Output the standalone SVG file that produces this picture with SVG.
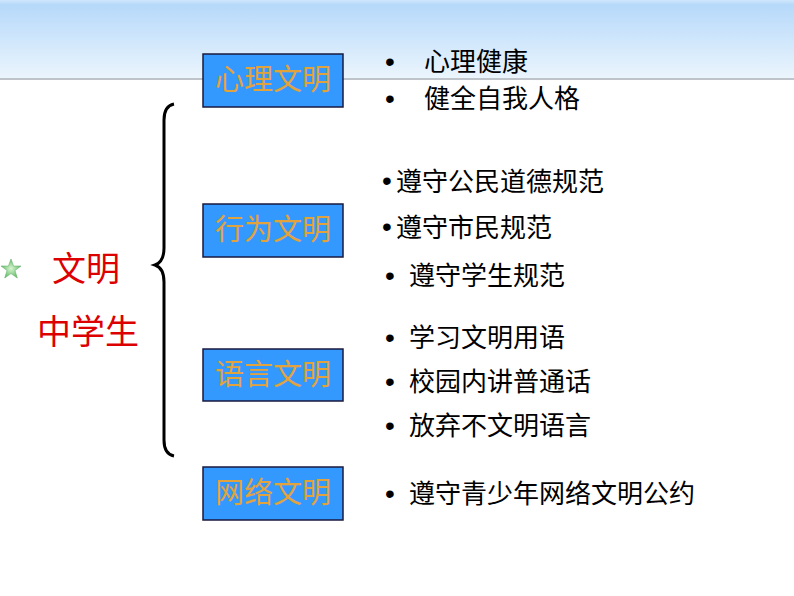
<svg xmlns="http://www.w3.org/2000/svg" width="794" height="596" viewBox="0 0 794 596">
<defs>
<linearGradient id="bg" x1="0" y1="0" x2="0" y2="1">
<stop offset="0" stop-color="#d0e7fc"/>
<stop offset="0.06" stop-color="#b6d9fa"/>
<stop offset="1" stop-color="#ebf5fd"/>
</linearGradient>
<radialGradient id="sg" cx="0.5" cy="0.5" r="0.6">
<stop offset="0" stop-color="#d8f5d0"/>
<stop offset="1" stop-color="#4fb058"/>
</radialGradient>
</defs>
<style>
.box{fill:#3399ff;stroke:#1a1a40;stroke-width:1.5}
.bt{font-family:"Noto Sans CJK SC","Liberation Sans",sans-serif;font-size:29px;fill:#e2a23c;text-anchor:middle}
.it{font-family:"Noto Sans CJK SC","Liberation Sans",sans-serif;font-size:26px;fill:#000}
.bu{font-family:"Liberation Sans",sans-serif;font-size:28px;fill:#000}
.rt{font-family:"Noto Sans CJK SC","Liberation Sans",sans-serif;font-size:34px;fill:#dd0000}
</style>
<rect width="794" height="596" fill="#fff"/>
<rect x="0" y="0" width="794" height="78" fill="url(#bg)"/>
<line x1="0" y1="79" x2="794" y2="79" stroke="#a8b0b8" stroke-width="1.5"/>
<polygon points="11,259 13.6,266 21,266 15,270.5 17.3,278 11,273.6 4.7,278 7,270.5 1,266 8.4,266" fill="url(#sg)" stroke="#5aa860" stroke-width="0.5"/>
<g id="title">
<text class="rt" x="52" y="281">文明</text>
<text class="rt" x="37" y="344">中学生</text>
</g>
<g id="connectors">
<path d="M174,104 Q164,106 164,120 L164,248 Q164,262 155,265 Q164,268 164,282 L164,440 Q164,454 174,456" fill="none" stroke="#000" stroke-width="3"/>
</g>
<g id="n1">
<rect class="box" x="203" y="54" width="140" height="53"/>
<text class="bt" x="273" y="90">心理文明</text>
</g>
<g id="n2">
<rect class="box" x="203" y="204" width="140" height="53"/>
<text class="bt" x="273" y="240">行为文明</text>
</g>
<g id="n3">
<rect class="box" x="203" y="349" width="140" height="52"/>
<text class="bt" x="273" y="385">语言文明</text>
</g>
<g id="n4">
<rect class="box" x="203" y="467" width="140" height="53"/>
<text class="bt" x="273" y="503">网络文明</text>
</g>
<g id="items">
<text class="bu" x="385" y="71">•</text><text class="it" x="424" y="71">心理健康</text>
<text class="bu" x="385" y="108">•</text><text class="it" x="424" y="108">健全自我人格</text>
<text class="bu" x="382" y="190">•</text><text class="it" x="396" y="191">遵守公民道德规范</text>
<text class="bu" x="382" y="236">•</text><text class="it" x="396" y="237">遵守市民规范</text>
<text class="bu" x="385" y="285">•</text><text class="it" x="409" y="285">遵守学生规范</text>
<text class="bu" x="385" y="347">•</text><text class="it" x="409" y="347">学习文明用语</text>
<text class="bu" x="385" y="391">•</text><text class="it" x="409" y="391">校园内讲普通话</text>
<text class="bu" x="385" y="435">•</text><text class="it" x="409" y="435">放弃不文明语言</text>
<text class="bu" x="385" y="503">•</text><text class="it" x="409" y="503">遵守青少年网络文明公约</text>
</g>
</svg>
